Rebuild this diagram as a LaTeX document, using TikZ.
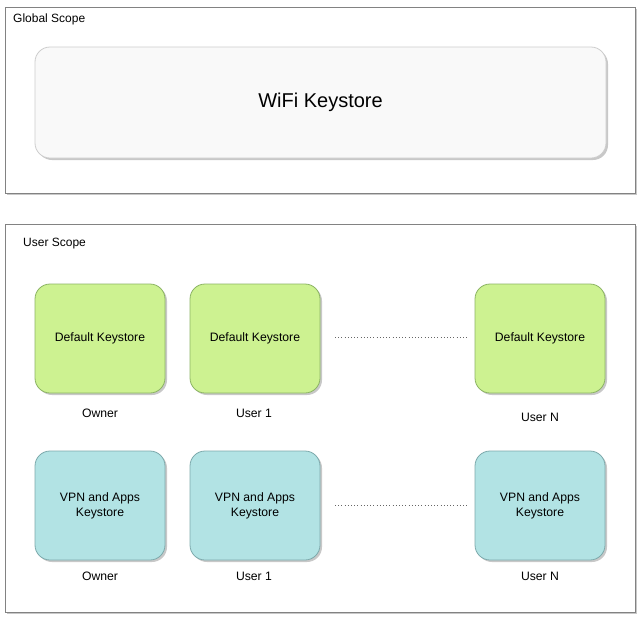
\documentclass[tikz,border=0pt]{standalone}
\usepackage{fontspec}
\setmainfont{Liberation Sans}
\usetikzlibrary{shadows}
\definecolor{scopeline}{RGB}{130,130,130}
\definecolor{shadowgray}{RGB}{200,200,200}
\definecolor{wififill}{RGB}{249,249,249}
\definecolor{wifiline}{RGB}{205,205,205}
\definecolor{greenfill}{RGB}{205,242,145}
\definecolor{greenline}{RGB}{140,180,100}
\definecolor{cyanfill}{RGB}{178,227,228}
\definecolor{cyanline}{RGB}{125,170,172}
\tikzset{
  scopebox/.style={draw=scopeline, line width=0.8pt, fill=white, rectangle, inner sep=0pt,
    copy shadow={shadow xshift=2pt, shadow yshift=-2pt, fill=shadowgray, draw=none}},
  wifibox/.style={draw=wifiline, line width=0.8pt, fill=wififill, rounded corners=15pt, rectangle,
    minimum width=571pt, minimum height=111pt, inner sep=0pt, font=\fontsize{20}{24}\selectfont,
    copy shadow={shadow xshift=2pt, shadow yshift=-2pt, fill=shadowgray, draw=none}},
  greenbox/.style={draw=greenline, line width=0.8pt, fill=greenfill, rounded corners=15pt, rectangle,
    minimum width=130pt, minimum height=109pt, inner sep=0pt, font=\fontsize{12.2}{14}\selectfont,
    copy shadow={shadow xshift=2pt, shadow yshift=-2pt, fill=shadowgray, draw=none}},
  cyanbox/.style={draw=cyanline, line width=0.8pt, fill=cyanfill, rounded corners=15pt, rectangle,
    minimum width=130pt, minimum height=109pt, inner sep=0pt, align=center,
    font=\fontsize{12.2}{15}\selectfont,
    copy shadow={shadow xshift=2pt, shadow yshift=-2pt, fill=shadowgray, draw=none}},
  lbl/.style={font=\fontsize{12.2}{14}\selectfont, inner sep=0pt},
  scopelbl/.style={font=\fontsize{12}{14}\selectfont, inner sep=0pt, anchor=west},
  dots/.style={draw=black!60, line width=0.6pt, dash pattern=on 0.6pt off 2.6pt}
}
\begin{document}
\begin{tikzpicture}[x=1pt,y=-1pt]
\useasboundingbox (0,0) rectangle (640,619);
% Global scope
\node[scopebox, minimum width=630pt, minimum height=186pt] (global) at (320,100) {};
\node[scopelbl] (globallbl) at (13,19.5) {Global Scope};
\node[wifibox] (wifi) at (320.5,102.5) {WiFi Keystore};
% User scope
\node[scopebox, minimum width=630pt, minimum height=388pt] (user) at (320,418) {};
\node[scopelbl] (userlbl) at (23,243.5) {User Scope};
% Default keystores
\node[greenbox] (d1) at (100,338.5) {Default Keystore};
\node[greenbox] (d2) at (255,338.5) {Default Keystore};
\node[greenbox] (d3) at (540,338.5) {Default Keystore};
\node[lbl] (l1) at (100,413) {Owner};
\node[lbl] (l2) at (254,413) {User 1};
\node[lbl] (l3) at (540,417) {User N};
\coordinate (da) at (335,337);
\coordinate (db) at (467,337);
\draw[dots] (da) -- (db);
% VPN keystores
\node[cyanbox] (v1) at (100,505.5) {VPN and Apps\\Keystore};
\node[cyanbox] (v2) at (255,505.5) {VPN and Apps\\Keystore};
\node[cyanbox] (v3) at (540,505.5) {VPN and Apps\\Keystore};
\node[lbl] (m1) at (100,576) {Owner};
\node[lbl] (m2) at (254,576) {User 1};
\node[lbl] (m3) at (540,576) {User N};
\coordinate (va) at (335,505);
\coordinate (vb) at (467,505);
\draw[dots] (va) -- (vb);
\end{tikzpicture}
\end{document}
